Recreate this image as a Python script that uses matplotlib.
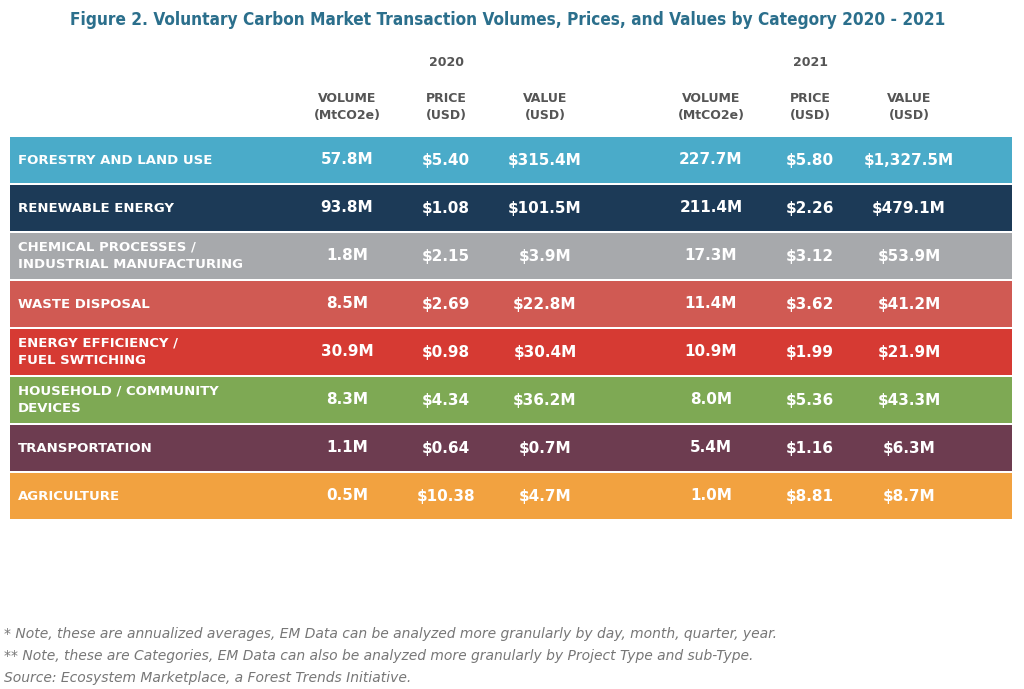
import matplotlib.pyplot as plt
from matplotlib.patches import Rectangle

categories = ["FORESTRY AND LAND USE", "RENEWABLE ENERGY",
              "CHEMICAL PROCESSES /\nINDUSTRIAL MANUFACTURING", "WASTE DISPOSAL",
              "ENERGY EFFICIENCY /\nFUEL SWTICHING", "HOUSEHOLD / COMMUNITY\nDEVICES",
              "TRANSPORTATION", "AGRICULTURE"]
vol_2020 = ["57.8M", "93.8M", "1.8M", "8.5M", "30.9M", "8.3M", "1.1M", "0.5M"]
price_2020 = ["$5.40", "$1.08", "$2.15", "$2.69", "$0.98", "$4.34", "$0.64", "$10.38"]
value_2020 = ["$315.4M", "$101.5M", "$3.9M", "$22.8M", "$30.4M", "$36.2M", "$0.7M", "$4.7M"]
vol_2021 = ["227.7M", "211.4M", "17.3M", "11.4M", "10.9M", "8.0M", "5.4M", "1.0M"]
price_2021 = ["$5.80", "$2.26", "$3.12", "$3.62", "$1.99", "$5.36", "$1.16", "$8.81"]
value_2021 = ["$1,327.5M", "$479.1M", "$53.9M", "$41.2M", "$21.9M", "$43.3M", "$6.3M", "$8.7M"]
colors = ["#4aabc9", "#1c3a57", "#a7a9ac", "#d05a53", "#d63a33", "#7ea954", "#6d3c50", "#f2a240"]
headers = ["VOLUME\n(MtCO2e)", "PRICE\n(USD)", "VALUE\n(USD)"]

W, H = 1024, 689
fig = plt.figure(figsize=(W / 100, H / 100), dpi=100)
ax = fig.add_axes([0, 0, 1, 1])
ax.set_xlim(0, W)
ax.set_ylim(H, 0)
ax.axis("off")

ax.text(508, 20, "Figure 2. Voluntary Carbon Market Transaction Volumes, Prices, and Values by Category 2020 - 2021",
        ha="center", va="center", fontsize=12.3, fontweight="bold", color="#2b6f8c",
        family="DejaVu Sans", fontstretch="condensed")

cols = [347, 446, 545, 711, 810, 909]
hdr = dict(ha="center", va="center", fontsize=9, fontweight="bold", color="#555555", family="DejaVu Sans")
ax.text(446, 62, "2020", **hdr)
ax.text(810, 62, "2021", **hdr)
for i, x in enumerate(cols):
    ax.text(x, 107, headers[i % 3], linespacing=1.3, **hdr)

top, step, gap = 137, 48, 2
for i, cat in enumerate(categories):
    y0 = top + i * step
    ax.add_patch(Rectangle((10, y0), 1002, step - gap, color=colors[i], lw=0))
    yc = y0 + (step - gap) / 2
    ax.text(18, yc, cat, ha="left", va="center", fontsize=9.5, fontweight="bold",
            color="white", linespacing=1.4)
    vals = [vol_2020[i], price_2020[i], value_2020[i], vol_2021[i], price_2021[i], value_2021[i]]
    for x, v in zip(cols, vals):
        ax.text(x, yc, v, ha="center", va="center", fontsize=11, fontweight="bold", color="white")

notes = ["* Note, these are annualized averages, EM Data can be analyzed more granularly by day, month, quarter, year.",
         "** Note, these are Categories, EM Data can also be analyzed more granularly by Project Type and sub-Type.",
         "Source: Ecosystem Marketplace, a Forest Trends Initiative."]
for j, n in enumerate(notes):
    ax.text(4, 634 + j * 22, n, ha="left", va="center", fontsize=10, style="italic", color="#777777")

fig.savefig("out.png", dpi=100)
